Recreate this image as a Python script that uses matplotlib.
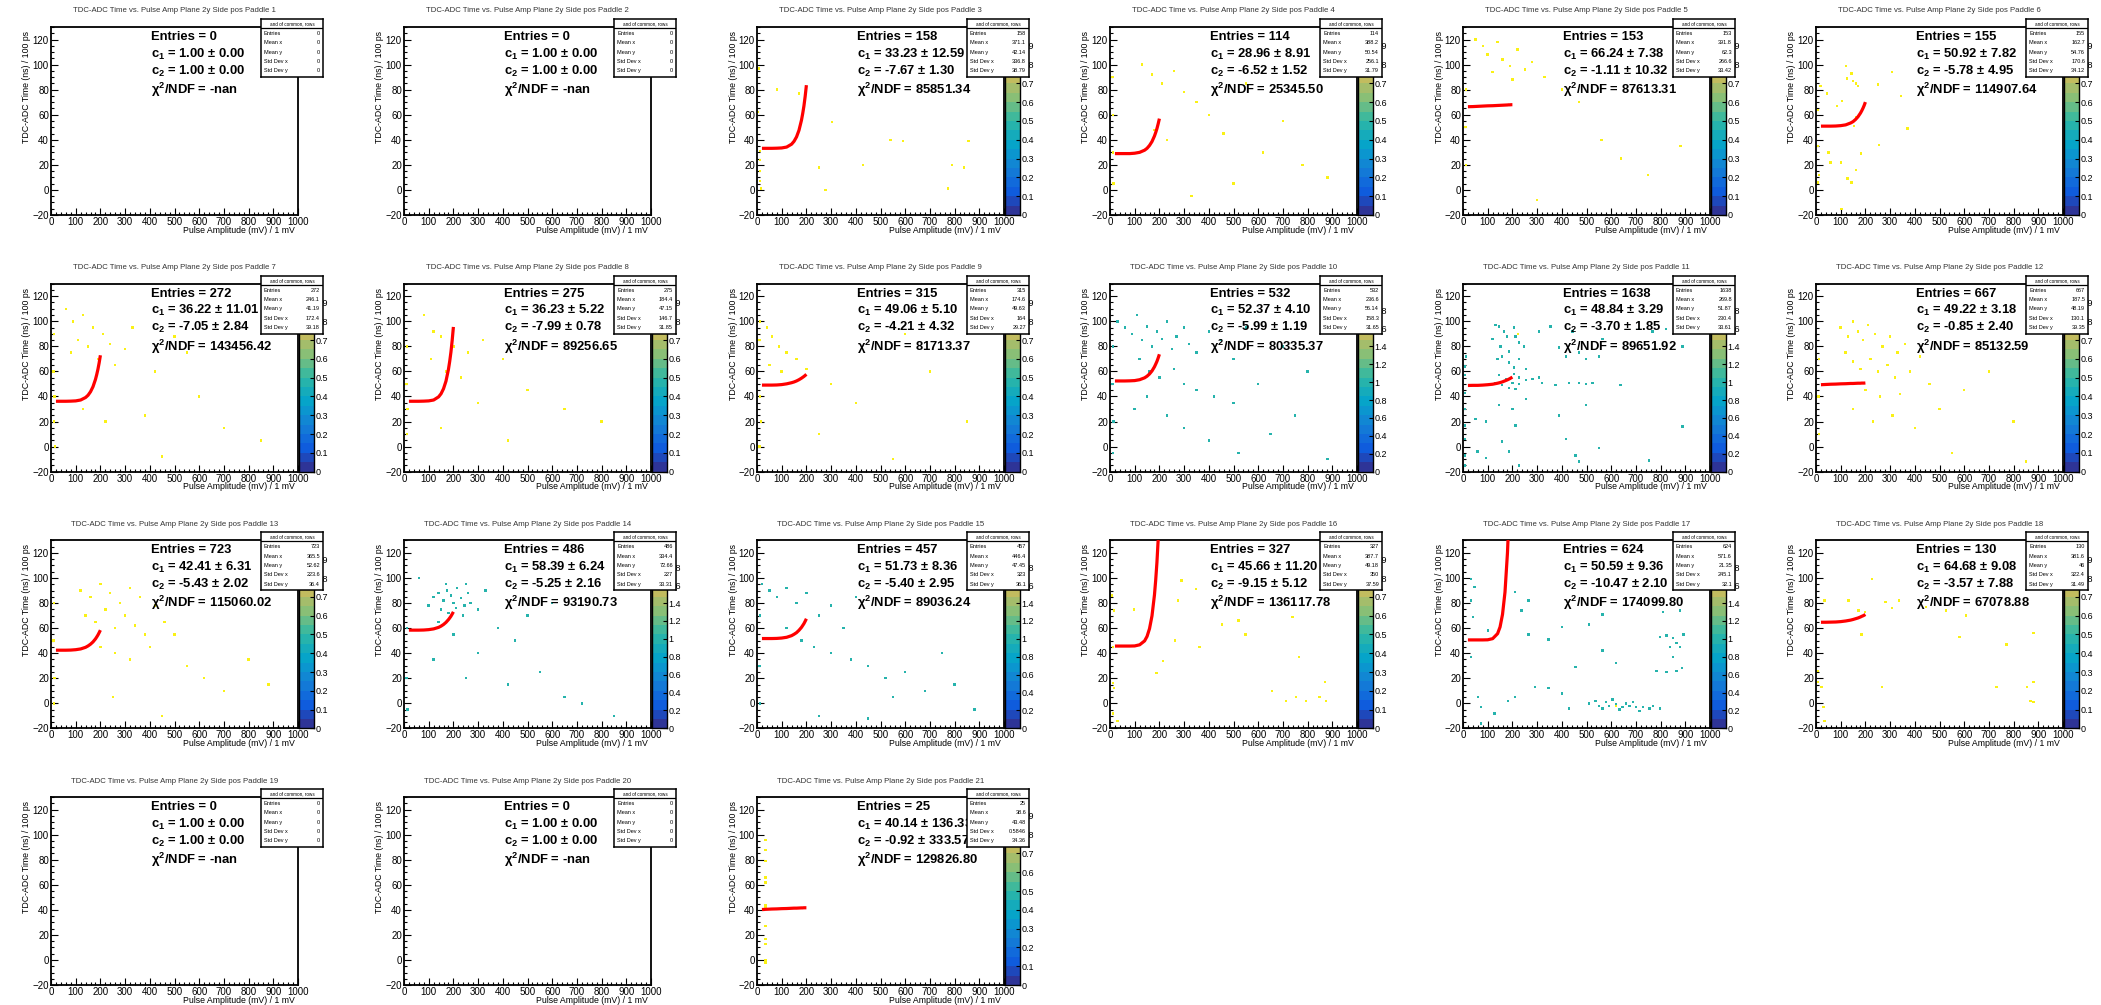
import numpy as np
import matplotlib.pyplot as plt
from matplotlib.colors import LinearSegmentedColormap, ListedColormap, BoundaryNorm
from matplotlib.ticker import MultipleLocator

plt.rcParams["font.family"] = ["Liberation Sans", "DejaVu Sans"]
plt.rcParams["mathtext.fontset"] = "custom"
plt.rcParams["mathtext.rm"] = "Liberation Sans:bold"
plt.rcParams["mathtext.it"] = "Liberation Sans:bold"
plt.rcParams["mathtext.bf"] = "Liberation Sans:bold"

# ---------------- data ----------------
paddles = list(range(1, 22))
entries = [0, 0, 158, 114, 153, 155, 272, 275, 315, 532, 1638, 667,
           723, 486, 457, 327, 624, 130, 0, 0, 25]
mean_x = [0, 0, 371.1, 388.2, 391.8, 162.7, 246.1, 184.4, 174.6, 236.6, 269.8, 187.5,
          365.5, 334.4, 446.4, 387.7, 571.6, 381.6, 0, 0, 38.6]
mean_y = [0, 0, 42.14, 50.54, 62.3, 54.76, 41.19, 47.15, 49.63, 56.14, 51.87, 48.19,
          52.62, 72.66, 47.45, 49.18, 21.35, 46, 0, 0, 43.48]
std_x = [0, 0, 336.8, 256.1, 266.6, 170.6, 172.4, 146.7, 164, 158.3, 230.4, 130.1,
         223.6, 227, 323, 350, 245.1, 322.4, 0, 0, 0.5846]
std_y = [0, 0, 38.79, 31.79, 33.42, 34.12, 39.18, 31.85, 29.27, 31.65, 33.61, 39.35,
         36.4, 33.31, 36.1, 37.59, 32.1, 31.49, 0, 0, 34.36]
c1 = [1.00, 1.00, 33.23, 28.96, 66.24, 50.92, 36.22, 36.23, 49.06, 52.37, 48.84, 49.22,
      42.41, 58.39, 51.73, 45.66, 50.59, 64.68, 1.00, 1.00, 40.14]
c1_err = [0, 0, 12.59, 8.91, 7.38, 7.82, 11.01, 5.22, 5.10, 4.10, 3.29, 3.18,
          6.31, 6.24, 8.36, 11.20, 9.36, 9.08, 0, 0, 136.33]
c2 = [1.00, 1.00, -7.67, -6.52, -1.11, -5.78, -7.05, -7.99, -4.21, -5.99, -3.70, -0.85,
      -5.43, -5.25, -5.40, -9.15, -10.47, -3.57, 1.00, 1.00, -0.92]
c2_err = [0, 0, 1.30, 1.52, 10.32, 4.95, 2.84, 0.78, 4.32, 1.19, 1.85, 2.40,
          2.02, 2.16, 2.95, 5.12, 2.10, 7.88, 0, 0, 333.57]
chi2_ndf = ["-nan", "-nan", "85851.34", "25345.50", "87613.31", "114907.64", "143456.42",
            "89256.65", "81713.37", "80335.37", "89651.92", "85132.59", "115060.02",
            "93190.73", "89036.24", "136117.78", "174099.80", "67078.88", "-nan", "-nan",
            "129826.80"]
# colour-axis maximum (None = empty histogram, no palette)
z_max = [None, None, 1, 1, 1, 1, 1, 1, 1, 2.1, 2.1, 1, 1, 2.1, 2.1, 1, 2.1, 1, None, None, 1]

# fitted time-walk curves, sampled at fit_x
fit_x = [20, 40, 60, 80, 100, 120, 140, 150, 160, 170, 180, 185, 190, 195, 200]
fit_03 = [33.2, 33.2, 33.2, 33.3, 33.5, 34.2, 36.5, 38.8, 42.3, 47.6, 55.6, 60.9, 67.0, 74.6, 83.6]
fit_04 = [29.0, 29.0, 29.0, 29.0, 29.3, 30.0, 31.7, 33.2, 35.5, 38.6, 43.0, 45.8, 48.9, 52.7, 56.9]
fit_05 = [66.4, 66.5, 66.7, 66.9, 67.1, 67.2, 67.4, 67.5, 67.6, 67.7, 67.8, 67.9, 67.9, 68.0, 68.0]
fit_06 = [50.9, 50.9, 50.9, 51.0, 51.3, 51.9, 53.4, 54.5, 56.2, 58.4, 61.3, 63.1, 65.1, 67.4, 70.1]
fit_07 = [36.2, 36.2, 36.2, 36.3, 36.5, 37.2, 39.2, 41.0, 43.8, 47.8, 53.6, 57.4, 61.7, 66.9, 72.9]
fit_08 = [36.2, 36.2, 36.2, 36.3, 36.5, 37.2, 39.7, 42.2, 46.2, 52.3, 61.7, 68.0, 75.4, 84.6, 95.5]
fit_09 = [49.1, 49.1, 49.1, 49.2, 49.5, 50.1, 51.0, 51.6, 52.4, 53.4, 54.6, 55.3, 56.0, 56.8, 57.7]
fit_10 = [52.4, 52.4, 52.4, 52.5, 52.7, 53.4, 54.9, 56.2, 58.0, 60.4, 63.7, 65.8, 68.0, 70.7, 73.7]
fit_11 = [48.8, 48.9, 48.9, 49.1, 49.4, 49.8, 50.6, 51.1, 51.7, 52.5, 53.3, 53.8, 54.3, 54.9, 55.5]
fit_12 = [49.4, 49.6, 49.8, 49.9, 50.1, 50.2, 50.4, 50.4, 50.5, 50.6, 50.6, 50.7, 50.7, 50.7, 50.8]
fit_13 = [42.4, 42.4, 42.4, 42.5, 42.8, 43.4, 44.7, 45.8, 47.2, 49.0, 51.4, 52.9, 54.5, 56.4, 58.4]
fit_14 = [58.4, 58.4, 58.4, 58.5, 58.8, 59.4, 60.6, 61.6, 62.9, 64.6, 66.8, 68.1, 69.5, 71.2, 73.0]
fit_15 = [51.7, 51.7, 51.7, 51.8, 52.1, 52.7, 54.0, 55.1, 56.4, 58.3, 60.6, 62.1, 63.6, 65.5, 67.5]
fit_16 = [45.7, 45.7, 45.7, 45.7, 45.8, 46.7, 49.8, 53.4, 59.6, 69.8, 86.5, 98.3, 112.4, 130.6, 152.9]
fit_17 = [50.6, 50.6, 50.6, 50.6, 50.7, 51.6, 55.6, 60.9, 71.0, 88.7, 120.0, 143.7, 172.6, 211.6, 260.0]
fit_18 = [64.7, 64.7, 64.8, 64.9, 65.2, 65.7, 66.4, 66.9, 67.5, 68.1, 68.9, 69.4, 69.8, 70.3, 70.9]
fit_21 = [40.3, 40.5, 40.7, 40.8, 41.0, 41.1, 41.3, 41.4, 41.4, 41.5, 41.6, 41.6, 41.7, 41.7, 41.7]

# filled bins (pulse amplitude, time), one entry each
hits_03 = [(7, 97), (81, 80), (169, 77), (304, 54), (4, 62), (252, 18), (429, 20), (540, 40),
           (590, 39), (857, 39), (277, 0), (773, 1), (790, 20), (837, 18), (11, 15), (13, 7),
           (12, 24), (11, 31), (16, 1)]
hits_04 = [(10, 90), (12, 60), (11, 30), (14, 5), (130, 100), (170, 92), (210, 85), (260, 95),
           (300, 78), (350, 70), (400, 60), (180, 48), (230, 40), (460, 45), (550, 85), (620, 30),
           (700, 55), (780, 20), (880, 10), (500, 5), (330, -5)]
hits_05 = [(50, 120), (80, 115), (100, 108), (140, 118), (160, 104), (190, 99), (220, 112),
           (250, 96), (280, 102), (120, 94), (330, 90), (200, 88), (400, 80), (470, 70), (12, 80),
           (10, 50), (12, 20), (560, 40), (640, 25), (750, 12), (880, 35), (300, -8)]
hits_06 = [(121, 99), (143, 93), (126, 89), (150, 87), (163, 85), (169, 83), (18, 83), (45, 77),
           (85, 67), (105, 71), (308, 94), (251, 84), (344, 75), (371, 49), (254, 36), (51, 30),
           (58, 22), (101, 22), (181, 29), (162, 16), (128, 9), (143, 6), (103, -15), (7, 6),
           (13, 12), (9, 35), (8, 64), (163, 58), (155, 51)]
hits_07 = [(60, 110), (90, 100), (130, 105), (170, 95), (210, 90), (110, 85), (150, 80), (240, 82),
           (80, 75), (300, 78), (330, 95), (190, 70), (260, 65), (420, 60), (500, 88), (550, 75),
           (12, 90), (10, 60), (14, 40), (12, 20), (15, 0), (130, 30), (220, 20), (380, 25),
           (600, 40), (700, 15), (850, 5), (450, -8)]
hits_08 = [(80, 105), (120, 92), (150, 88), (200, 80), (110, 70), (260, 75), (320, 85), (400, 70),
           (170, 60), (230, 55), (12, 80), (10, 50), (14, 30), (12, 10), (300, 35), (500, 45),
           (650, 30), (800, 20), (150, 15), (420, 5)]
hits_09 = [(12, 100), (10, 85), (40, 95), (60, 88), (90, 80), (120, 75), (160, 70), (50, 65),
           (100, 60), (200, 62), (12, 40), (15, 20), (10, 0), (300, 50), (400, 35), (600, 90),
           (700, 60), (850, 20), (250, 10), (550, -10)]
hits_10 = [(30, 100), (60, 95), (90, 90), (110, 105), (130, 85), (150, 96), (170, 80), (190, 92),
           (210, 86), (230, 100), (250, 78), (270, 88), (300, 95), (320, 82), (350, 75), (400, 92),
           (450, 85), (500, 70), (550, 95), (120, 70), (160, 60), (200, 55), (260, 62), (300, 50),
           (350, 45), (420, 40), (500, 35), (600, 50), (150, 40), (100, 30), (230, 25), (300, 15),
           (400, 5), (520, -5), (650, 10), (750, 25), (880, -10), (12, 80), (10, 50), (14, 20),
           (11, -5), (700, 80), (800, 60)]
hits_11 = [(132, 97), (146, 96), (166, 92), (179, 88), (119, 86), (206, 95), (213, 88), (227, 83),
           (152, 80), (186, 76), (247, 80), (159, 72), (139, 70), (186, 67), (206, 63), (227, 70),
           (254, 62), (146, 57), (173, 54), (200, 51), (227, 50), (159, 49), (186, 47), (213, 46),
           (254, 53), (281, 54), (132, 51), (105, 49), (227, 55), (308, 55), (206, 58), (308, 92),
           (355, 96), (389, 79), (416, 72), (443, 92), (470, 75), (497, 70), (551, 72), (564, 86),
           (713, 94), (767, 92), (821, 94), (888, 80), (321, 51), (375, 49), (429, 51), (470, 51),
           (497, 50), (524, 51), (638, 49), (51, 22), (92, 20), (146, 33), (200, 30), (213, 17),
           (254, 38), (389, 25), (416, 6), (497, 33), (159, 4), (186, -4), (227, -15), (92, -9),
           (58, -4), (551, -1), (753, -11), (456, -7), (470, -12), (888, 16), (7, 64), (8, 57),
           (7, 43), (8, 30), (7, 17), (8, 6), (7, -7), (7, -15), (11, 72)]
hits_12 = [(100, 95), (130, 88), (150, 100), (170, 92), (190, 85), (210, 97), (240, 90), (270, 80),
           (300, 88), (330, 75), (360, 82), (120, 75), (150, 68), (180, 62), (220, 70), (250, 60),
           (290, 65), (320, 55), (380, 60), (420, 72), (460, 50), (200, 45), (260, 40), (340, 42),
           (150, 30), (230, 20), (310, 25), (400, 15), (500, 30), (600, 45), (700, 60), (800, 20),
           (12, 70), (10, 40), (12, 10), (550, -5), (850, -12)]
hits_13 = [(120, 90), (160, 85), (200, 95), (240, 88), (280, 80), (320, 92), (360, 85), (140, 70),
           (180, 65), (220, 75), (260, 60), (300, 70), (340, 62), (380, 55), (420, 78), (460, 65),
           (500, 55), (200, 45), (260, 40), (320, 35), (400, 45), (550, 30), (620, 20), (700, 10),
           (800, 35), (880, 15), (12, 80), (10, 50), (14, 20), (12, 0), (250, 5), (450, -10)]
hits_14 = [(120, 85), (140, 88), (160, 82), (175, 90), (190, 86), (200, 80), (215, 92), (230, 84),
           (245, 78), (260, 88), (150, 75), (180, 72), (210, 76), (240, 70), (270, 80), (300, 75),
           (100, 78), (330, 90), (250, 95), (170, 95), (140, 65), (60, 100), (380, 60), (450, 50),
           (200, 55), (300, 40), (120, 35), (250, 20), (420, 15), (550, 25), (650, 5), (720, 0),
           (850, -10), (12, 60), (10, 20), (14, -5), (500, 70), (600, 80)]
hits_15 = [(20, 95), (50, 90), (80, 85), (120, 92), (160, 80), (200, 88), (250, 70), (300, 78),
           (350, 60), (400, 85), (120, 60), (180, 50), (230, 45), (300, 40), (380, 35), (450, 30),
           (520, 20), (600, 25), (680, 10), (750, 40), (800, 15), (880, -5), (12, 70), (10, 30),
           (13, 0), (250, -10), (450, -12), (550, 5)]
hits_16 = [(8, 86), (16, 74), (11, 45), (11, 16), (16, 12), (11, -8), (30, -14), (289, 98),
           (276, 82), (262, 50), (363, 45), (453, 63), (521, 66), (548, 55), (739, 69), (766, 37),
           (657, 10), (712, 2), (794, 2), (870, 17), (875, 2), (848, 5), (753, 5), (349, 91),
           (98, 75), (215, 34), (188, 24)]
hits_17 = [(510, 0), (551, -2), (578, 1), (592, -2), (619, -1), (646, -3), (674, -2), (701, -3),
           (728, -3), (755, -4), (769, -2), (537, 2), (605, 3), (660, 0), (688, 1), (565, -4),
           (633, -5), (715, -6), (797, -4), (797, 53), (824, 54), (851, 52), (865, 48), (878, 45),
           (838, 45), (783, 26), (824, 25), (865, 26), (887, 28), (851, 37), (878, 74), (810, 73),
           (892, 55), (210, 89), (237, 74), (101, 58), (265, 55), (346, 51), (401, 61), (510, 63),
           (565, 42), (619, 32), (456, 29), (292, 13), (346, 12), (401, 8), (210, 5), (128, -8),
           (74, -16), (33, 37), (33, 82), (46, 93), (41, 69), (60, 5), (74, -3), (265, 82),
           (428, -4), (183, 2), (565, 71), (33, 99)]
hits_18 = [(35, 82), (131, 82), (172, 74), (199, 73), (281, 81), (308, 76), (336, 82), (445, 77),
           (526, 74), (608, 70), (226, 99), (8, 26), (8, 17), (22, 13), (30, -3), (35, -14),
           (267, 13), (581, 53), (772, 47), (731, 13), (854, 13), (881, 17), (868, 2), (881, 1),
           (881, 56), (185, 55)]
hits_21 = [(34, 96), (34, 88), (34, 79), (34, 66), (34, 62), (34, 44), (34, 42), (34, 27),
           (34, 17), (34, 13), (34, 0), (34, -2)]

# bins holding two entries (only in the panels whose palette goes to 2)
doubles_11 = [(222, 90)]
doubles_17 = [(620, -2)]

hits = [[], [], hits_03, hits_04, hits_05, hits_06, hits_07, hits_08, hits_09, hits_10,
        hits_11, hits_12, hits_13, hits_14, hits_15, hits_16, hits_17, hits_18, [], [], hits_21]
doubles = {11: doubles_11, 17: doubles_17}
fits = {3: fit_03, 4: fit_04, 5: fit_05, 6: fit_06, 7: fit_07, 8: fit_08, 9: fit_09,
        10: fit_10, 11: fit_11, 12: fit_12, 13: fit_13, 14: fit_14, 15: fit_15, 16: fit_16,
        17: fit_17, 18: fit_18, 21: fit_21}

# ---------------- ROOT "kBird" palette ----------------
stops = [0.0, 0.125, 0.25, 0.375, 0.5, 0.625, 0.75, 0.875, 1.0]
red = [0.2082, 0.0592, 0.0780, 0.0232, 0.1802, 0.5301, 0.8186, 0.9956, 0.9764]
green = [0.1664, 0.3599, 0.5041, 0.6419, 0.7178, 0.7492, 0.7328, 0.7862, 0.9832]
blue = [0.5293, 0.8684, 0.8385, 0.7914, 0.6425, 0.4662, 0.3499, 0.1968, 0.0539]
bird = LinearSegmentedColormap.from_list("bird", list(zip(stops, zip(red, green, blue))))
n_bands = 20
bird_steps = ListedColormap(bird((np.arange(n_bands) + 0.5) / n_bands))

# ---------------- layout (pixels) ----------------
W, H = 2101, 1005
fig = plt.figure(figsize=(W / 100, H / 100), dpi=100)
FW, FH = 247, 188


def px_axes(x0, y0, w, h):
    return fig.add_axes([x0 / W, 1 - (y0 + h) / H, w / W, h / H])


def ftxt(ax, x, y, s, **kw):
    ax.text(x / W, 1 - y / H, s, transform=fig.transFigure, clip_on=False, **kw)


for i, pad in enumerate(paddles):
    col, row = i % 6, i // 6
    fl = 51 + 353 * col
    ft = 27 + 256.7 * row

    ax = px_axes(fl, ft, FW, FH)
    ax.set_xlim(0, 1000)
    ax.set_ylim(-20, 130)
    ax.xaxis.set_major_locator(MultipleLocator(100))
    ax.xaxis.set_minor_locator(MultipleLocator(20))
    ax.yaxis.set_major_locator(MultipleLocator(20))
    ax.yaxis.set_minor_locator(MultipleLocator(5))
    ax.tick_params(which="both", direction="in", top=False, right=False,
                   labelsize=7, pad=1.5, width=0.8)
    ax.tick_params(which="major", length=5)
    ax.tick_params(which="minor", length=2.5)
    for sp in ax.spines.values():
        sp.set_linewidth(1.3)

    zm = z_max[i]
    if zm is not None:
        norm = BoundaryNorm(np.linspace(0, zm, n_bands + 1), n_bands)
        pts = hits[i]
        if pts:
            xs, ys = zip(*pts)
            ax.scatter(xs, ys, s=3.0, marker="s", linewidths=0,
                       color=bird_steps(norm(np.full(len(xs), 1.0))), zorder=2)
        if pad in doubles:
            xs, ys = zip(*doubles[pad])
            ax.scatter(xs, ys, s=3.0, marker="s", linewidths=0,
                       color=bird_steps(norm(np.full(len(xs), 2.0))), zorder=2)
    if pad in fits:
        ax.plot(fit_x, fits[pad], color="red", lw=2.3, zorder=3,
                solid_capstyle="butt")

    # titles
    ftxt(ax, fl + FW / 2, ft - 16, f"TDC-ADC Time vs. Pulse Amp Plane 2y Side pos Paddle {pad}",
         ha="center", va="center", fontsize=5.6, color="#333333")
    ftxt(ax, fl + FW - 3, ft + FH + 15, "Pulse Amplitude (mV) / 1 mV",
         ha="right", va="center", fontsize=6.3)
    ftxt(ax, fl - 24, ft + 4, "TDC-ADC Time (ns) / 100 ps",
         ha="center", va="top", rotation=90, fontsize=6.3)

    # fit summary
    tx = fl + 100
    ftxt(ax, tx, ft + 10, f"Entries = {entries[i]}", ha="left", va="center",
         fontsize=9.4, fontweight="bold")
    ftxt(ax, tx, ft + 27, f"c$_1$ = {c1[i]:.2f} ± {c1_err[i]:.2f}", ha="left", va="center",
         fontsize=9.4, fontweight="bold")
    ftxt(ax, tx, ft + 44, f"c$_2$ = {c2[i]:.2f} ± {c2_err[i]:.2f}", ha="left", va="center",
         fontsize=9.4, fontweight="bold")
    ftxt(ax, tx, ft + 63, f"χ$^2$/NDF = {chi2_ndf[i]}", ha="left", va="center",
         fontsize=9.4, fontweight="bold")

    # palette
    if zm is not None:
        cax = px_axes(fl + FW + 1, ft, 15, FH)
        lev = np.linspace(0, zm, n_bands + 1)
        cax.pcolormesh([0, 1], lev, ((lev[:-1] + lev[1:]) / 2)[:, None],
                       cmap=bird_steps, norm=norm, shading="flat")
        cax.set_xlim(0, 1)
        cax.set_ylim(0, zm)
        cax.set_xticks([])
        step = 0.1 if zm < 1.5 else 0.2
        cax.yaxis.set_major_locator(MultipleLocator(step))
        cax.yaxis.tick_right()
        cax.tick_params(axis="y", direction="in", length=3, width=0.8, labelsize=6.5, pad=1)
        cax.yaxis.set_major_formatter(plt.FuncFormatter(lambda v, p: f"{v:g}"))
        for sp in cax.spines.values():
            sp.set_linewidth(1.0)

    # statistics box
    sax = px_axes(fl + 210, ft - 8, 62, 58)
    sax.set_xlim(0, 62)
    sax.set_ylim(58, 0)
    sax.set_xticks([])
    sax.set_yticks([])
    sax.set_facecolor("white")
    for sp in sax.spines.values():
        sp.set_linewidth(1.1)
    sax.axhline(9, color="black", lw=0.9)
    sax.text(31, 4.7, "and of common, rows", ha="center", va="center", fontsize=3.3)
    rows = [("Entries", entries[i]), ("Mean x", mean_x[i]), ("Mean y", mean_y[i]),
            ("Std Dev x", std_x[i]), ("Std Dev y", std_y[i])]
    for k, (lab, val) in enumerate(rows):
        yy = 14.5 + k * 9.3
        sax.text(3, yy, lab, ha="left", va="center", fontsize=4.0)
        sax.text(59, yy, f"{val:.4g}", ha="right", va="center", fontsize=4.0)

fig.savefig("out.png", dpi=100)
